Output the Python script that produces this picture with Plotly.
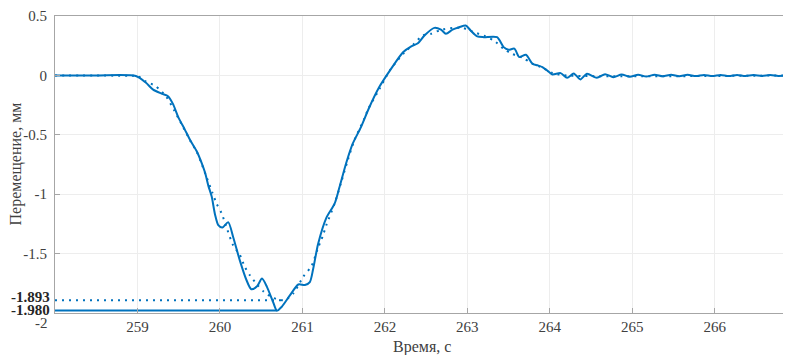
import plotly.graph_objects as go

# ---- data ----
t_meas = [258.0, 258.5, 258.98, 259.1, 259.19, 259.3, 259.37, 259.43, 259.5, 259.57,
          259.64, 259.72, 259.78, 259.82, 259.86, 259.9, 259.94, 259.98, 260.03, 260.1,
          260.16, 260.24, 260.32, 260.38, 260.45, 260.51, 260.57, 260.65, 260.69, 260.75,
          260.85, 260.95, 261.03, 261.09, 261.13, 261.19, 261.29, 261.39, 261.45, 261.53,
          261.61, 261.71, 261.81, 261.93, 262.06, 262.22, 262.32, 262.4, 262.48, 262.6,
          262.68, 262.74, 262.82, 262.9, 262.98, 263.04, 263.12, 263.2, 263.36, 263.44,
          263.5, 263.57, 263.63, 263.71, 263.79, 263.85, 263.91, 263.97, 264.03, 264.13,
          264.21, 264.29, 264.37, 264.45, 264.57, 264.67, 264.77, 264.87, 264.97, 265.07,
          265.17, 265.27, 265.37, 265.47, 265.57, 265.67, 265.77, 265.87, 265.97, 266.07,
          266.17, 266.27, 266.37, 266.47, 266.57, 266.67, 266.77, 266.9]
v_meas = [0.0, 0.0, -0.005, -0.06, -0.12, -0.155, -0.175, -0.24, -0.36, -0.45,
          -0.546, -0.64, -0.74, -0.82, -0.93, -1.02, -1.17, -1.26, -1.28, -1.235,
          -1.36, -1.555, -1.72, -1.80, -1.775, -1.71, -1.78, -1.918, -1.98, -1.947,
          -1.85, -1.76, -1.765, -1.74, -1.63, -1.42, -1.2, -1.08, -0.94, -0.74,
          -0.575, -0.435, -0.27, -0.1, 0.04, 0.195, 0.245, 0.27, 0.336, 0.4,
          0.385, 0.35, 0.385, 0.405, 0.42, 0.378, 0.328, 0.322, 0.322, 0.238,
          0.216, 0.225, 0.154, 0.174, 0.098, 0.085, 0.07, 0.04, 0.008, 0.019,
          -0.02, 0.016, -0.034, 0.014, -0.02, 0.01, -0.015, 0.008, -0.012, 0.006,
          -0.01, 0.006, -0.008, 0.005, -0.007, 0.005, -0.006, 0.004, -0.006, 0.004,
          -0.005, 0.004, -0.005, 0.003, -0.004, 0.003, -0.004, 0.0]

t_model = [258.0, 258.9, 259.0, 259.1, 259.22, 259.35, 259.45, 259.55, 259.64, 259.72,
           259.77, 259.84, 259.91, 259.96, 260.02, 260.09, 260.16, 260.24, 260.3, 260.36,
           260.45, 260.53, 260.65, 260.78, 260.89, 261.01, 261.11, 261.18, 261.25, 261.29,
           261.39, 261.47, 261.55, 261.63, 261.75, 261.8, 261.93, 262.06, 262.24, 262.34,
           262.46, 262.56, 262.68, 262.82, 262.94, 263.08, 263.22, 263.32, 263.44, 263.54,
           263.67, 263.79, 263.91, 264.03, 264.2, 266.9]
v_model = [0.0, -0.003, -0.005, -0.05, -0.09, -0.18, -0.3, -0.43, -0.55, -0.645,
           -0.73, -0.86, -0.99, -1.08, -1.16, -1.3, -1.43, -1.51, -1.61, -1.68,
           -1.76, -1.82, -1.874, -1.893, -1.835, -1.695, -1.605, -1.47, -1.345, -1.26,
           -1.08, -0.9, -0.714, -0.546, -0.364, -0.28, -0.12, 0.042, 0.196, 0.256,
           0.336, 0.35, 0.384, 0.4, 0.4, 0.364, 0.328, 0.294, 0.224, 0.182,
           0.149, 0.098, 0.065, 0.02, 0.0, 0.0]

x_ticks = [259, 260, 261, 262, 263, 264, 265, 266]
y_ticks = [-1.5, -1, -0.5, 0, 0.5]
y_tick_labels = ["-1.5", "-1", "-0.5", "0", "0.5"]
x_range = [258, 266.9]
y_range = [-2, 0.5]
x_title = "Время, с"
y_title = "Перемещение, мм"

BLUE = "#0072BD"
FONT = "Liberation Serif"
LABEL = "#404040"

min_meas = min(v_meas)
t_min_meas = t_meas[v_meas.index(min_meas)]
min_model = min(v_model)
t_min_model = t_model[v_model.index(min_model)]

fig = go.Figure()
fig.add_trace(go.Scatter(x=t_meas, y=v_meas, mode="lines",
                         line=dict(color=BLUE, width=2, shape="spline", smoothing=0.7),
                         showlegend=False, hoverinfo="skip"))
fig.add_trace(go.Scatter(x=t_model, y=v_model, mode="lines",
                         line=dict(color=BLUE, width=2, dash="2px,5px", shape="spline", smoothing=0.7),
                         showlegend=False, hoverinfo="skip"))
fig.add_trace(go.Scatter(x=[x_range[0], t_min_model], y=[min_model, min_model], mode="lines",
                         line=dict(color=BLUE, width=2, dash="2px,5px"),
                         showlegend=False, hoverinfo="skip"))
fig.add_trace(go.Scatter(x=[x_range[0], t_min_meas], y=[min_meas, min_meas], mode="lines",
                         line=dict(color=BLUE, width=2),
                         showlegend=False, hoverinfo="skip"))

axis_common = dict(showline=True, linecolor="#a6a6a6", linewidth=1,
                   gridcolor="#ededed", gridwidth=1, zeroline=False,
                   ticks="inside", ticklen=5, tickcolor="#a6a6a6", automargin=False,
                   tickfont=dict(family=FONT, size=15, color=LABEL))

# The page body adds an 8px offset, so the figure is sized to fit the window.
fig.update_layout(
    width=783, height=347,
    margin=dict(l=47, r=2, t=8, b=42),
    paper_bgcolor="white", plot_bgcolor="white",
    font=dict(family=FONT, size=15, color=LABEL),
    xaxis=dict(range=x_range, tickvals=x_ticks, ticktext=[str(v) for v in x_ticks],
               mirror=True, showgrid=True, **axis_common),
    yaxis=dict(range=y_range, tickvals=y_ticks, ticktext=y_tick_labels,
               showgrid=True, ticklabelstandoff=4, **axis_common),
)

# axis titles
fig.add_annotation(x=0.5, xref="paper", y=0, yref="paper", text=x_title,
                   showarrow=False, xanchor="center", yanchor="middle", yshift=-34,
                   font=dict(family=FONT, size=16, color=LABEL))
fig.add_annotation(x=0, xref="paper", y=0.5, yref="paper", text=y_title, textangle=-90,
                   showarrow=False, xanchor="center", yanchor="middle", xshift=-40,
                   font=dict(family=FONT, size=16, color=LABEL))

# special y labels (minima and the -2 label, nudged as in the reference)
fig.add_annotation(x=0, xref="paper", y=y_range[0], yref="y", text="-2",
                   showarrow=False, xanchor="right", xshift=-5, yshift=-10,
                   font=dict(family=FONT, size=15, color=LABEL))
fig.add_annotation(x=0, xref="paper", y=min_model, yref="y", text="<b>%.3f</b>" % min_model,
                   showarrow=False, xanchor="right", xshift=-3, yshift=3,
                   font=dict(family=FONT, size=15, color="#262626"))
fig.add_annotation(x=0, xref="paper", y=min_meas, yref="y", text="<b>%.3f</b>" % min_meas,
                   showarrow=False, xanchor="right", xshift=-3, yshift=1,
                   font=dict(family=FONT, size=15, color="#262626"))

fig.write_html("out.html")
